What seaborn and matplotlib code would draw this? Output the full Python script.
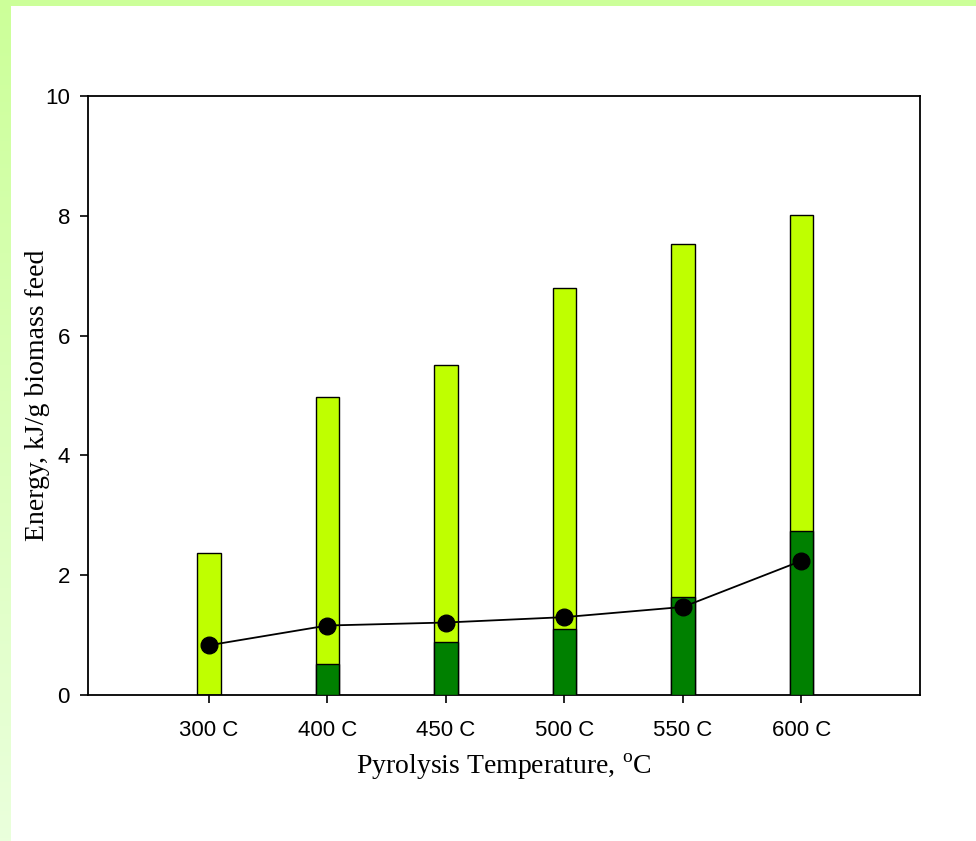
import numpy as np
import pandas as pd
import matplotlib
matplotlib.use("Agg")
import matplotlib.pyplot as plt
import seaborn as sns

categories = ["300 C", "400 C", "450 C", "500 C", "550 C", "600 C"]
total_energy = [2.37, 4.98, 5.51, 6.79, 7.53, 8.01]
dark_energy = [0.0, 0.52, 0.89, 1.10, 1.64, 2.74]
line_energy = [0.83, 1.16, 1.21, 1.30, 1.47, 2.24]
y_ticks = [0, 2, 4, 6, 8, 10]

df = pd.DataFrame({"cat": categories, "total": total_energy,
                   "dark": dark_energy, "line": line_energy})

sns.set_style("white")
plt.rcParams["font.family"] = ["Liberation Sans", "DejaVu Sans"]
plt.rcParams["text.color"] = "black"
plt.rcParams["axes.labelcolor"] = "black"

fig = plt.figure(figsize=(9.76, 8.41), dpi=100)
fig.patch.set_facecolor("white")

# decorative green frame strips
grad = np.linspace(0, 1, 256).reshape(-1, 1)
cmap = matplotlib.colors.LinearSegmentedColormap.from_list("g", ["#ccff99", "#eaffdc"])
sax = fig.add_axes([0, 0, 11 / 976, 1])
sax.imshow(grad, aspect="auto", cmap=cmap, extent=[0, 1, 0, 1], origin="upper")
sax.axis("off")
tax = fig.add_axes([0, 1 - 6 / 841, 1, 6 / 841])
tax.set_facecolor("#ccff99")
tax.set_xticks([]); tax.set_yticks([])
for s in tax.spines.values():
    s.set_visible(False)

ax = fig.add_axes([88 / 976, 146 / 841, 832 / 976, 599 / 841])
sns.barplot(data=df, x="cat", y="total", color="#bfff00", width=0.2,
            edgecolor="black", linewidth=1.0, saturation=1, ax=ax, zorder=2)
sns.barplot(data=df, x="cat", y="dark", color="#008000", width=0.2,
            edgecolor="black", linewidth=1.0, saturation=1, ax=ax, zorder=3)
sns.pointplot(data=df, x="cat", y="line", color="black", markers="o",
              linestyles="-", markersize=12, linewidth=1.3, ax=ax, zorder=4)

ax.set_xlim(-1.02, 6.0)
ax.set_ylim(0, 10)
ax.set_yticks(y_ticks)
ax.set_yticklabels([str(t) for t in y_ticks])
ax.tick_params(axis="both", direction="out", length=6, width=1.2,
               labelsize=16, color="black", labelcolor="black",
               bottom=True, left=True, top=False, right=False)
ax.tick_params(axis="x", pad=12)
ax.tick_params(axis="y", pad=7)
for s in ax.spines.values():
    s.set_visible(True)
    s.set_color("black")
    s.set_linewidth(1.3)

ax.set_xlabel("Pyrolysis Temperature, $^{\\mathregular{o}}$C",
              fontfamily="Liberation Serif", fontsize=20, labelpad=8, color="black")
ax.set_ylabel("Energy, kJ/g biomass feed",
              fontfamily="Liberation Serif", fontsize=20, labelpad=-3.5, color="black")

fig.savefig("out.png", dpi=100, facecolor=fig.get_facecolor())
